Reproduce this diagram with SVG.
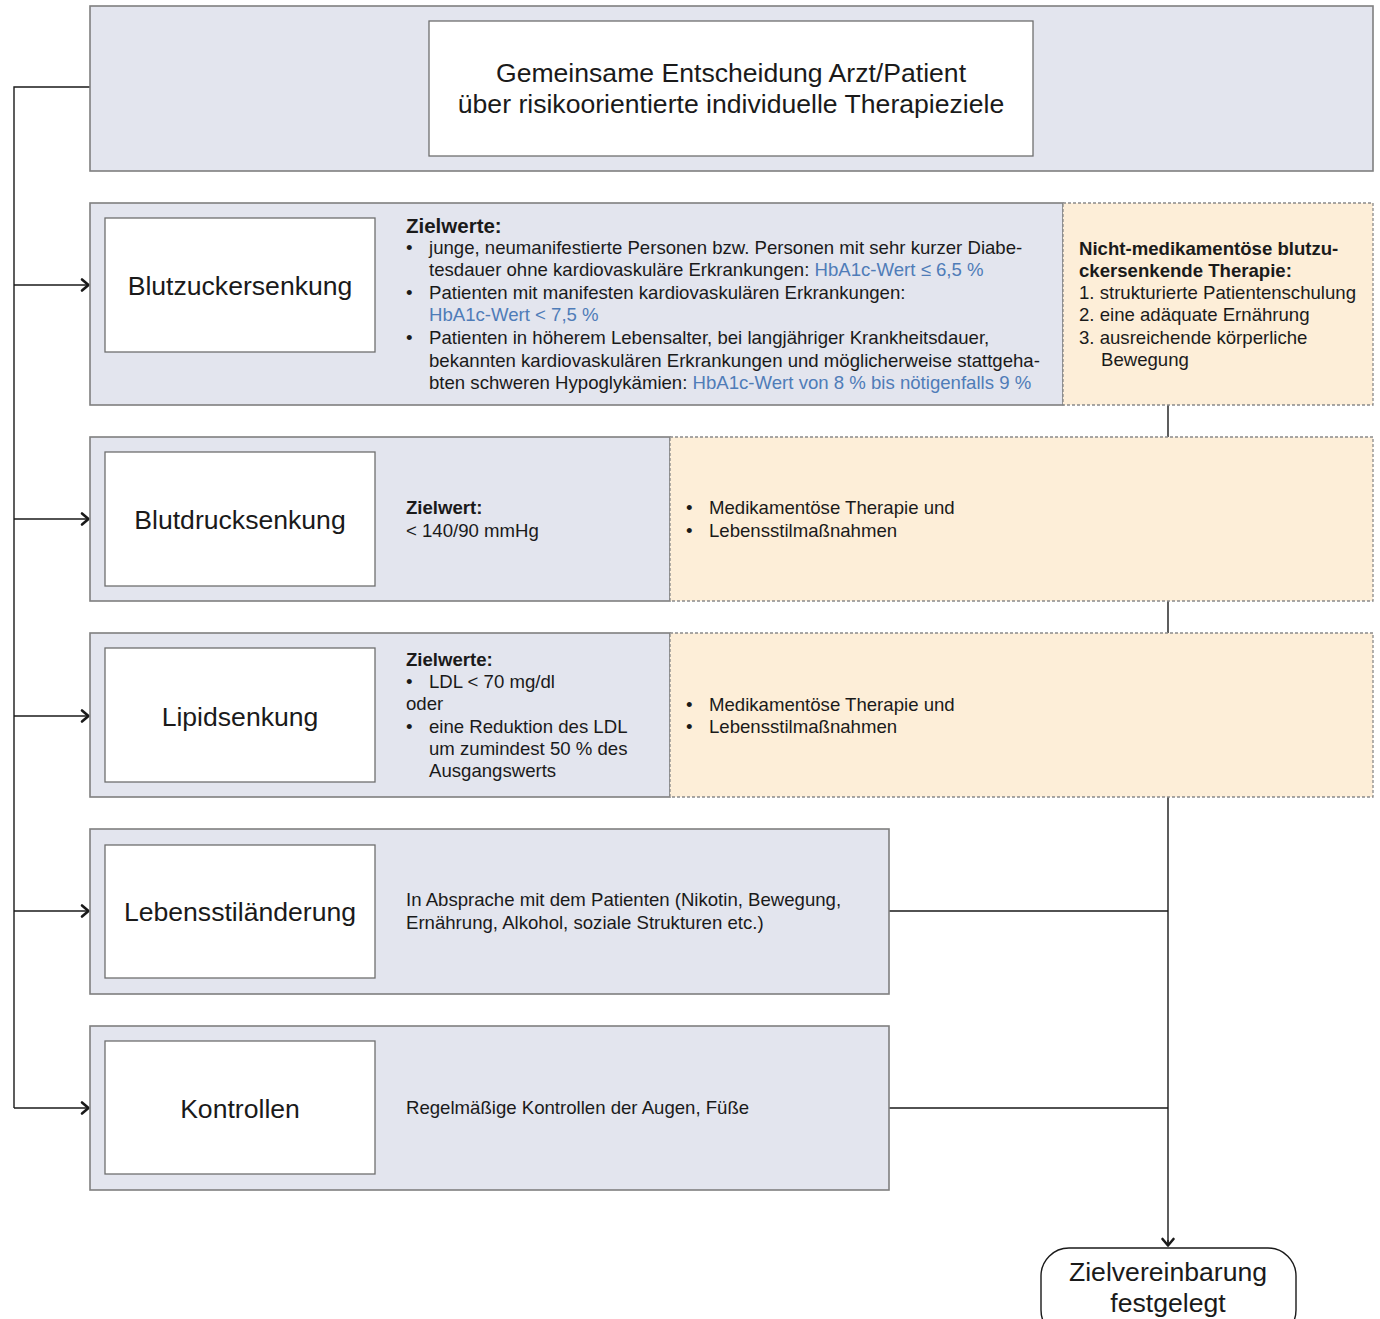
<svg xmlns="http://www.w3.org/2000/svg" width="1380" height="1319" viewBox="0 0 1380 1319">
<style>
text{font-family:"Liberation Sans",Arial,sans-serif;fill:#1a1a1a}
.outer{fill:#e3e5ee;stroke:#7f7f7f;stroke-width:1.6}
.inner{fill:#ffffff;stroke:#6f6f6f;stroke-width:1.3}
.opt{fill:#fdeed8;stroke:#8a8a8a;stroke-width:1.3;stroke-dasharray:3 2}
.big{font-size:26.6px}
.title{font-size:26.6px}
.s{font-size:18.6px}
.b{font-weight:bold}
.blue{fill:#4f7cb8}
.ln{fill:none;stroke:#1a1a1a;stroke-width:1.4}
</style>
<defs>
<marker id="chev" markerWidth="14" markerHeight="16" refX="10" refY="8" orient="auto" markerUnits="userSpaceOnUse">
<path d="M3,2.5 L9.5,8 L3,13.5" fill="none" stroke="#1a1a1a" stroke-width="2.6" stroke-linecap="round" stroke-linejoin="round"/>
</marker>
</defs>
<rect width="1380" height="1319" fill="#ffffff"/>

<g id="connectors">
<path class="ln" d="M90,87 H14 V1108"/>
<path class="ln" d="M14,285 H89" marker-end="url(#chev)"/>
<path class="ln" d="M14,519 H89" marker-end="url(#chev)"/>
<path class="ln" d="M14,716 H89" marker-end="url(#chev)"/>
<path class="ln" d="M14,911 H89" marker-end="url(#chev)"/>
<path class="ln" d="M14,1108 H89" marker-end="url(#chev)"/>
<path class="ln" d="M1168,405 V437 M1168,601 V633 M1168,797 V1246"/>
<path class="ln" d="M889,911 H1168 M889,1108 H1168"/>
<path class="ln" d="M1168,1240 V1246" marker-end="url(#chev)"/>
</g>

<g id="top">
<rect class="outer" x="90" y="6" width="1283" height="165"/>
<rect class="inner" x="429" y="21" width="604" height="135"/>
<text class="title" x="731" y="82" text-anchor="middle">Gemeinsame Entscheidung Arzt/Patient</text>
<text class="title" x="731" y="113" text-anchor="middle">über risikoorientierte individuelle Therapieziele</text>
</g>

<g id="blutzucker">
<rect class="outer" x="90" y="203" width="973" height="202"/>
<rect class="inner" x="105" y="218" width="270" height="134"/>
<text class="big" x="240" y="295" text-anchor="middle">Blutzuckersenkung</text>
<text class="b" x="406" y="233" font-size="20.5px">Zielwerte:</text>
<text class="s" x="406" y="254">•</text>
<text class="s" x="429" y="254">junge, neumanifestierte Personen bzw. Personen mit sehr kurzer Diabe-</text>
<text class="s" x="429" y="276">tesdauer ohne kardiovaskuläre Erkrankungen: <tspan class="blue">HbA1c-Wert ≤ 6,5 %</tspan></text>
<text class="s" x="406" y="299">•</text>
<text class="s" x="429" y="299">Patienten mit manifesten kardiovaskulären Erkrankungen:</text>
<text class="s blue" x="429" y="321">HbA1c-Wert &lt; 7,5 %</text>
<text class="s" x="406" y="344">•</text>
<text class="s" x="429" y="344">Patienten in höherem Lebensalter, bei langjähriger Krankheitsdauer,</text>
<text class="s" x="429" y="367">bekannten kardiovaskulären Erkrankungen und möglicherweise stattgeha-</text>
<text class="s" x="429" y="389">bten schweren Hypoglykämien: <tspan class="blue">HbA1c-Wert von 8 % bis nötigenfalls 9 %</tspan></text>
</g>

<g id="blutzucker-nonmed">
<rect class="opt" x="1063" y="203" width="310" height="202"/>
<text class="s b" x="1079" y="255">Nicht-medikamentöse blutzu-</text>
<text class="s b" x="1079" y="277">ckersenkende Therapie:</text>
<text class="s" x="1079" y="299">1. strukturierte Patientenschulung</text>
<text class="s" x="1079" y="321">2. eine adäquate Ernährung</text>
<text class="s" x="1079" y="344">3. ausreichende körperliche</text>
<text class="s" x="1101" y="366">Bewegung</text>
</g>

<g id="blutdruck">
<rect class="outer" x="90" y="437" width="580" height="164"/>
<rect class="inner" x="105" y="452" width="270" height="134"/>
<text class="big" x="240" y="529" text-anchor="middle">Blutdrucksenkung</text>
<text class="s b" x="406" y="514">Zielwert:</text>
<text class="s" x="406" y="537">&lt; 140/90 mmHg</text>
</g>

<g id="blutdruck-therapie">
<rect class="opt" x="670" y="437" width="703" height="164"/>
<text class="s" x="686" y="514">•</text>
<text class="s" x="709" y="514">Medikamentöse Therapie und</text>
<text class="s" x="686" y="537">•</text>
<text class="s" x="709" y="537">Lebensstilmaßnahmen</text>
</g>

<g id="lipid">
<rect class="outer" x="90" y="633" width="580" height="164"/>
<rect class="inner" x="105" y="648" width="270" height="134"/>
<text class="big" x="240" y="726" text-anchor="middle">Lipidsenkung</text>
<text class="s b" x="406" y="666">Zielwerte:</text>
<text class="s" x="406" y="688">•</text>
<text class="s" x="429" y="688">LDL &lt; 70 mg/dl</text>
<text class="s" x="406" y="710">oder</text>
<text class="s" x="406" y="733">•</text>
<text class="s" x="429" y="733">eine Reduktion des LDL</text>
<text class="s" x="429" y="755">um zumindest 50 % des</text>
<text class="s" x="429" y="777">Ausgangswerts</text>
</g>

<g id="lipid-therapie">
<rect class="opt" x="670" y="633" width="703" height="164"/>
<text class="s" x="686" y="711">•</text>
<text class="s" x="709" y="711">Medikamentöse Therapie und</text>
<text class="s" x="686" y="733">•</text>
<text class="s" x="709" y="733">Lebensstilmaßnahmen</text>
</g>

<g id="lebensstil">
<rect class="outer" x="90" y="829" width="799" height="165"/>
<rect class="inner" x="105" y="845" width="270" height="133"/>
<text class="big" x="240" y="921" text-anchor="middle">Lebensstiländerung</text>
<text class="s" x="406" y="906">In Absprache mit dem Patienten (Nikotin, Bewegung,</text>
<text class="s" x="406" y="929">Ernährung, Alkohol, soziale Strukturen etc.)</text>
</g>

<g id="kontrollen">
<rect class="outer" x="90" y="1026" width="799" height="164"/>
<rect class="inner" x="105" y="1041" width="270" height="133"/>
<text class="big" x="240" y="1118" text-anchor="middle">Kontrollen</text>
<text class="s" x="406" y="1114">Regelmäßige Kontrollen der Augen, Füße</text>
</g>

<g id="ziel">
<rect x="1041" y="1248" width="255" height="90" rx="28" ry="28" fill="#ffffff" stroke="#1a1a1a" stroke-width="1.4"/>
<text class="title" x="1168" y="1281" text-anchor="middle">Zielvereinbarung</text>
<text class="title" x="1168" y="1312" text-anchor="middle">festgelegt</text>
</g>
</svg>
